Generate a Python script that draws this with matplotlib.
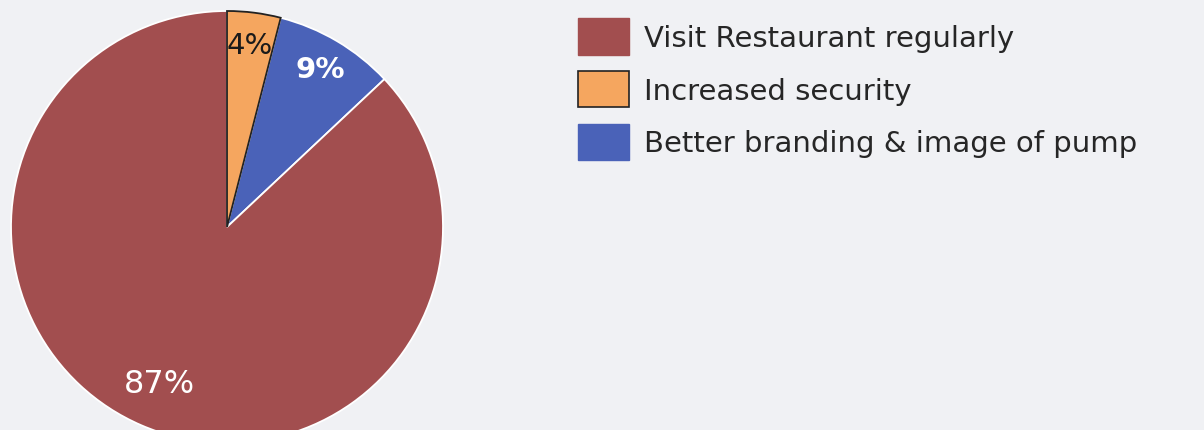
import matplotlib
matplotlib.use("Agg")
import numpy as np
import matplotlib.pyplot as plt
from matplotlib.patches import Patch

# data
labels = ["Visit Restaurant regularly", "Increased security", "Better branding & image of pump"]
values = [87, 4, 9]
colors = ["#A24E4F", "#F5A65F", "#4A62B8"]
pct_colors = ["white", "#1a1a1a", "white"]

W, H = 1204, 431
fig = plt.figure(figsize=(W / 100, H / 100), dpi=100)
fig.patch.set_facecolor("#F0F1F4")

# pie centre at (227, 228) px, radius 216 px
cx, cy, r = 227, 228, 216
ax = fig.add_axes([(cx - r) / W, (H - cy - r) / H, 2 * r / W, 2 * r / H])

# slices go clockwise from the top: orange, blue, then red
order = [1, 2, 0]
wedges, texts, autotexts = ax.pie(
    [values[i] for i in order],
    colors=[colors[i] for i in order],
    startangle=90,
    counterclock=False,
    autopct="%d%%",
    wedgeprops=dict(edgecolor="white", linewidth=1.3),
    textprops=dict(fontsize=21),
)
ax.set_xlim(-1, 1)
ax.set_ylim(-1, 1)
ax.set_aspect("auto")

# orange slice has a dark outline in the original
wedges[0].set_edgecolor("#222222")
wedges[0].set_zorder(3)

# label distance from centre differs a little per slice
dists = [0.85, 0.85, 0.79]
sizes = [21, 21, 23]
for t, w, i, d, s in zip(autotexts, wedges, order, dists, sizes):
    mid = np.deg2rad((w.theta1 + w.theta2) / 2)
    t.set_position((d * np.cos(mid), d * np.sin(mid)))
    t.set_color(pct_colors[i])
    t.set_fontsize(s)
    t.set_zorder(4)
autotexts[1].set_fontweight("bold")

handles = [
    Patch(facecolor=colors[0], edgecolor=colors[0]),
    Patch(facecolor=colors[1], edgecolor="#222222", linewidth=1.2),
    Patch(facecolor=colors[2], edgecolor=colors[2]),
]
fs = 21
leg = fig.legend(
    handles, labels,
    loc="upper left",
    bbox_to_anchor=(578 / W, 1 - 19 / H),
    frameon=False,
    fontsize=fs,
    handlelength=1.76,
    handleheight=1.56,
    handletextpad=0.5,
    labelspacing=0.55,
    borderpad=0,
    borderaxespad=0,
)
for t in leg.get_texts():
    t.set_color("#262626")

fig.savefig("out.png", dpi=100, facecolor=fig.get_facecolor())
